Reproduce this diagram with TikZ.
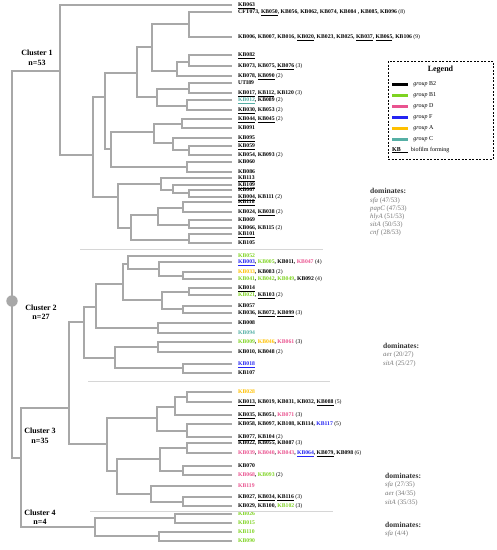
\documentclass[tikz,border=0pt]{standalone}
\usepackage{fontspec}
\setmainfont{Liberation Serif}
\usetikzlibrary{positioning}

\definecolor{branchgrey}{HTML}{A8A8A8}
\definecolor{sepgrey}{HTML}{D6D6D6}
\definecolor{grpBone}{HTML}{7ED321}
\definecolor{grpD}{HTML}{E9538F}
\definecolor{grpF}{HTML}{2424F2}
\definecolor{grpA}{HTML}{FFC000}
\definecolor{grpC}{HTML}{55AFA5}
\definecolor{genegrey}{HTML}{777777}
\definecolor{domgrey}{HTML}{333333}

\newcommand{\bfm}[1]{\underline{#1}}
\newcommand{\Bone}[1]{\textcolor{grpBone}{#1}}
\newcommand{\Dgrp}[1]{\textcolor{grpD}{#1}}
\newcommand{\Fgrp}[1]{\textcolor{grpF}{#1}}
\newcommand{\Agrp}[1]{\textcolor{grpA}{#1}}
\newcommand{\Cgrp}[1]{\textcolor{grpC}{#1}}
\newcommand{\cnt}[1]{\textmd{(#1)}}

\tikzset{
    branch/.style = {draw=branchgrey, line width=1.8pt},
    leaf/.style = {anchor=west, inner xsep=6pt, inner ysep=0pt, text height=4pt, text depth=1pt,
      font=\fontsize{5.7}{6}\selectfont\bfseries},
    clusterlabel/.style = {align=center, font=\fontsize{8}{9.5}\selectfont\bfseries},
    sepline/.style = {draw=sepgrey, line width=0.8pt},
    swatch/.style = {minimum width=16pt, minimum height=3pt, inner sep=0pt},
    legendtext/.style = {inner sep=0pt, font=\fontsize{6}{7}\selectfont},
    dom/.style = {anchor=west, inner sep=0pt, text=domgrey, font=\fontsize{7.6}{8}\selectfont\bfseries},
    gene/.style = {anchor=west, inner sep=0pt, text=genegrey, font=\fontsize{6.8}{7}\selectfont},
}

\begin{document}
\begin{tikzpicture}
    [
      x = 1pt,
      y = -1pt,
    ]

    \useasboundingbox (0,0) rectangle (497,550);

    \coordinate (root) at (12,301);
    \coordinate (na) at (21,458);
    \coordinate (nb) at (69,408);

    \coordinate (cl1) at (60,71);
    \coordinate (n1) at (93,155);
    \coordinate (n2) at (105,97);
    \coordinate (n3) at (137,73);
    \coordinate (n4) at (152,47);
    \coordinate (n5) at (189,24);
    \coordinate (n6) at (177,71);
    \coordinate (n7) at (189,62);
    \coordinate (n8) at (157,97);
    \coordinate (n9) at (189,89);
    \coordinate (n10) at (187,106);
    \coordinate (n11) at (111,149);
    \coordinate (n12) at (154,132);
    \coordinate (n13) at (182,124);
    \coordinate (n14) at (173,143);
    \coordinate (n15) at (187,167);
    \coordinate (n16) at (189,150);
    \coordinate (n17) at (118,197);
    \coordinate (n18) at (161,184);
    \coordinate (n19) at (173,190);
    \coordinate (n20) at (189,193);
    \coordinate (n21) at (131,228);
    \coordinate (n22) at (158,215);
    \coordinate (n23) at (183,208);
    \coordinate (n24) at (189,225);
    \coordinate (n25) at (189,240);

    \coordinate (cl2) at (84,322);
    \coordinate (m1) at (96,307);
    \coordinate (m2) at (123,284);
    \coordinate (m3) at (128,264);
    \coordinate (m4) at (159,269);
    \coordinate (m5) at (162,300);
    \coordinate (m6) at (189,292);
    \coordinate (m7) at (158,328);
    \coordinate (m8) at (115,358);
    \coordinate (m9) at (183,276);
    \coordinate (m10) at (183,309);
    \coordinate (m11) at (158,347);
    \coordinate (m12) at (183,368);

    \coordinate (cl3) at (107,444);
    \coordinate (p1) at (157,418);
    \coordinate (p2) at (175,407);
    \coordinate (p3) at (187,431);
    \coordinate (p4) at (117,471);
    \coordinate (p5) at (187,397);
    \coordinate (p6) at (160,459);
    \coordinate (p7) at (187,448);
    \coordinate (p8) at (183,471);
    \coordinate (p9) at (151,494);
    \coordinate (p10) at (183,502);

    \coordinate (cl4) at (95,527);
    \coordinate (q1) at (175,518);
    \coordinate (q2) at (159,536);

    \node[leaf] (kb063) at (232,5) {\bfm{KB063}};
    \node[leaf] (cft073) at (232,12) {CFT073, \bfm{KB050}, KB056, KB062, KB074, KB084 , KB085, KB096 \cnt{8}};
    \node[leaf] (kb006) at (232,37) {KB006, KB007, KB016, \bfm{KB020}, KB023, KB025, \bfm{KB037}, \bfm{KB065}, KB106 \cnt{9}};
    \node[leaf] (kb082) at (232,55) {\bfm{KB082}};
    \node[leaf] (kb073) at (232,66) {KB073, KB075, \bfm{KB076} \cnt{3}};
    \node[leaf] (kb078) at (232,76) {KB078, \bfm{KB090} \cnt{2}};
    \node[leaf] (uti89) at (232,83) {UTI89};
    \node[leaf] (kb017) at (232,93) {\bfm{KB017}, \bfm{KB112}, KB120 \cnt{3}};
    \node[leaf] (kb012) at (232,100) {\Cgrp{\bfm{KB012}}, KB089 \cnt{2}};
    \node[leaf] (kb030) at (232,110) {\bfm{KB030}, KB053 \cnt{2}};
    \node[leaf] (kb044) at (232,119) {\bfm{KB044}, \bfm{KB045} \cnt{2}};
    \node[leaf] (kb091) at (232,128) {KB091};
    \node[leaf] (kb095) at (232,138) {\bfm{KB095}};
    \node[leaf] (kb059) at (232,146) {\bfm{KB059}};
    \node[leaf] (kb054) at (232,155) {KB054, KB093 \cnt{2}};
    \node[leaf] (kb060) at (232,162) {KB060};
    \node[leaf] (kb086) at (232,172) {KB086};
    \node[leaf] (kb113) at (232,178) {\bfm{KB113}};
    \node[leaf] (kb109) at (232,185) {\bfm{KB109}};
    \node[leaf] (kb067) at (232,190) {KB067};
    \node[leaf] (kb004) at (232,197) {\bfm{KB004}, KB111 \cnt{2}};
    \node[leaf] (kb118) at (232,202) {\bfm{KB118}};
    \node[leaf] (kb024) at (232,212) {KB024, \bfm{KB038} \cnt{2}};
    \node[leaf] (kb069) at (232,220) {KB069};
    \node[leaf] (kb066) at (232,228) {KB066, KB115 \cnt{2}};
    \node[leaf] (kb101) at (232,234) {\bfm{KB101}};
    \node[leaf] (kb105) at (232,243) {KB105};

    \node[leaf] (kb052) at (232,256) {\Bone{KB052}};
    \node[leaf] (kb003) at (232,262) {\Fgrp{\bfm{KB003}}, \Bone{KB005}, KB011, \Dgrp{KB047} \cnt{4}};
    \node[leaf] (kb033) at (232,272) {\Agrp{KB033}, KB083 \cnt{2}};
    \node[leaf] (kb041) at (232,279) {\Bone{KB041}, \Bone{KB042}, \Bone{KB049}, KB092 \cnt{4}};
    \node[leaf] (kb014) at (232,288) {\bfm{KB014}};
    \node[leaf] (kb021) at (232,295) {\Bone{KB021}, \bfm{KB103} \cnt{2}};
    \node[leaf] (kb057) at (232,306) {KB057};
    \node[leaf] (kb036) at (232,313) {KB036, \bfm{KB072}, \bfm{KB099} \cnt{3}};
    \node[leaf] (kb008) at (232,323) {KB008};
    \node[leaf] (kb094) at (232,333) {\Cgrp{KB094}};
    \node[leaf] (kb009) at (232,342) {\Bone{KB009}, \Agrp{KB046}, \Dgrp{KB061} \cnt{3}};
    \node[leaf] (kb010) at (232,352) {KB010, KB048 \cnt{2}};
    \node[leaf] (kb018) at (232,364) {\Fgrp{\bfm{KB018}}};
    \node[leaf] (kb107) at (232,373) {KB107};

    \node[leaf] (kb028) at (232,392) {\Agrp{KB028}};
    \node[leaf] (kb013) at (232,402) {\bfm{KB013}, KB019, KB031, KB032, \bfm{KB088} \cnt{5}};
    \node[leaf] (kb035) at (232,415) {\bfm{KB035}, KB051, \Dgrp{KB071} \cnt{3}};
    \node[leaf] (kb058) at (232,424) {KB058, KB097, KB108, KB114, \Fgrp{KB117} \cnt{5}};
    \node[leaf] (kb077) at (232,437) {\bfm{KB077}, \bfm{KB104} \cnt{2}};
    \node[leaf] (kb022) at (232,443) {KB022, KB055, KB087 \cnt{3}};
    \node[leaf] (kb039) at (232,453) {\Dgrp{KB039}, \Dgrp{KB040}, \Dgrp{KB043}, \Fgrp{\bfm{KB064}}, \bfm{KB079}, KB098 \cnt{6}};
    \node[leaf] (kb070) at (232,466) {KB070};
    \node[leaf] (kb068) at (232,475) {\Dgrp{KB068}, \Bone{KB093} \cnt{2}};
    \node[leaf] (kb119) at (232,486) {\Dgrp{KB119}};
    \node[leaf] (kb027) at (232,497) {KB027, \bfm{KB034}, \bfm{KB116} \cnt{3}};
    \node[leaf] (kb029) at (232,506) {KB029, KB100, \Bone{KB102} \cnt{3}};

    \node[leaf] (kb026) at (232,514) {\Bone{KB026}};
    \node[leaf] (kb015) at (232,523) {\Bone{KB015}};
    \node[leaf] (kb110) at (232,532) {\Bone{KB110}};
    \node[leaf] (kb090) at (232,541) {\Bone{KB090}};

    \draw[branch] (cl1) -| (root) |- (na);
    \draw[branch] (nb) -| (na) |- (cl4);
    \draw[branch] (cl2) -| (nb) |- (cl3);

    \draw[branch] (kb063.west) -| (cl1) |- (n1);
    \draw[branch] (n2) -| (n1) |- (n17);
    \draw[branch] (n3) -| (n2) |- (n11);
    \draw[branch] (n4) -| (n3) |- (n8);
    \draw[branch] (n5) -| (n4) |- (n6);
    \draw[branch] (cft073.west) -| (n5) |- (kb006.west);
    \draw[branch] (n7) -| (n6) |- (kb078.west);
    \draw[branch] (kb082.west) -| (n7) |- (kb073.west);
    \draw[branch] (n9) -| (n8) |- (n10);
    \draw[branch] (uti89.west) -| (n9) |- (kb017.west);
    \draw[branch] (kb012.west) -| (n10) |- (kb030.west);
    \draw[branch] (n12) -| (n11) |- (n15);
    \draw[branch] (n13) -| (n12) |- (n14);
    \draw[branch] (kb044.west) -| (n13) |- (kb091.west);
    \draw[branch] (kb095.west) -| (n14) |- (n16);
    \draw[branch] (kb059.west) -| (n16) |- (kb054.west);
    \draw[branch] (kb060.west) -| (n15) |- (kb086.west);
    \draw[branch] (n18) -| (n17) |- (n21);
    \draw[branch] (kb113.west) -| (n18) |- (n19);
    \draw[branch] (kb109.west) -| (n19) |- (n20);
    \draw[branch] (kb067.west) -| (n20) |- (kb004.west);
    \draw[branch] (n22) -| (n21) |- (n25);
    \draw[branch] (n23) -| (n22) |- (n24);
    \draw[branch] (kb118.west) -| (n23) |- (kb024.west);
    \draw[branch] (kb069.west) -| (n24) |- (kb066.west);
    \draw[branch] (kb101.west) -| (n25) |- (kb105.west);

    \draw[branch] (m1) -| (cl2) |- (m8);
    \draw[branch] (m2) -| (m1) |- (m7);
    \draw[branch] (m3) -| (m2) |- (m5);
    \draw[branch] (kb052.west) -| (m3) |- (m4);
    \draw[branch] (kb003.west) -| (m4) |- (m9);
    \draw[branch] (kb033.west) -| (m9) |- (kb041.west);
    \draw[branch] (m6) -| (m5) |- (m10);
    \draw[branch] (kb014.west) -| (m6) |- (kb021.west);
    \draw[branch] (kb057.west) -| (m10) |- (kb036.west);
    \draw[branch] (kb008.west) -| (m7) |- (kb094.west);
    \draw[branch] (m11) -| (m8) |- (m12);
    \draw[branch] (kb009.west) -| (m11) |- (kb010.west);
    \draw[branch] (kb018.west) -| (m12) |- (kb107.west);

    \draw[branch] (p1) -| (cl3) |- (p4);
    \draw[branch] (p2) -| (p1) |- (p3);
    \draw[branch] (p5) -| (p2) |- (kb035.west);
    \draw[branch] (kb028.west) -| (p5) |- (kb013.west);
    \draw[branch] (kb058.west) -| (p3) |- (kb077.west);
    \draw[branch] (p6) -| (p4) |- (p9);
    \draw[branch] (p7) -| (p6) |- (p8);
    \draw[branch] (kb022.west) -| (p7) |- (kb039.west);
    \draw[branch] (kb070.west) -| (p8) |- (kb068.west);
    \draw[branch] (kb119.west) -| (p9) |- (p10);
    \draw[branch] (kb027.west) -| (p10) |- (kb029.west);

    \draw[branch] (q1) -| (cl4) |- (q2);
    \draw[branch] (kb026.west) -| (q1) |- (kb015.west);
    \draw[branch] (kb110.west) -| (q2) |- (kb090.west);

    \node[circle, fill=branchgrey, minimum size=11.4pt, inner sep=0pt] (rootdot) at (root) {};

    \draw[sepline] (80,249) -- (323,249);
    \draw[sepline] (88,381) -- (330,381);
    \draw[sepline] (90,511) -- (333,511);

    \node[clusterlabel] (lab1) at (37,58) {Cluster 1\\n=53};
    \node[clusterlabel] (lab2) at (41,312) {Cluster 2\\n=27};
    \node[clusterlabel] (lab3) at (40,436) {Cluster 3\\n=35};
    \node[clusterlabel] (lab4) at (40,517) {Cluster 4\\n=4};

    \draw[line width=0.7pt, dash pattern=on 2pt off 1.5pt] (388,61) rectangle (493,159);
    \node[font=\fontsize{8}{9}\selectfont\bfseries] (legend) at (440.5,70) {Legend};
    \node[swatch, fill=black] (swBtwo) at (400,84) {};
    \node[swatch, fill=grpBone] (swBone) at (400,95) {};
    \node[swatch, fill=grpD] (swD) at (400,106) {};
    \node[swatch, fill=grpF] (swF) at (400,117) {};
    \node[swatch, fill=grpA] (swA) at (400,128) {};
    \node[swatch, fill=grpC] (swC) at (400,139) {};
    \node[legendtext, right=5pt of swBtwo] (txBtwo) {\textit{group} B2};
    \node[legendtext, right=5pt of swBone] (txBone) {\textit{group} B1};
    \node[legendtext, right=5pt of swD] (txD) {\textit{group} D};
    \node[legendtext, right=5pt of swF] (txF) {\textit{group} F};
    \node[legendtext, right=5pt of swA] (txA) {\textit{group} A};
    \node[legendtext, right=5pt of swC] (txC) {\textit{group} C};
    \node[legendtext, anchor=west] (biofilm) at (392,150) {\underline{\textbf{KB}\hspace{7pt}}\hspace{3pt}biofilm forming};

    \node[dom] (dom1) at (370,191) {dominates:};
    \node[gene] (sfa1) at (370,200.5) {\textit{sfa} (47/53)};
    \node[gene] (papc1) at (370,208.5) {\textit{papC} (47/53)};
    \node[gene] (hlya1) at (370,216.5) {\textit{hlyA} (51/53)};
    \node[gene] (sita1) at (370,224.5) {\textit{sitA} (50/53)};
    \node[gene] (cnf1) at (370,232.5) {\textit{cnf} (28/53)};

    \node[dom] (dom2) at (383,346) {dominates:};
    \node[gene] (aer2) at (383,355) {\textit{ae}r (20/27)};
    \node[gene] (sita2) at (383,364) {\textit{sitA} (25/27)};

    \node[dom] (dom3) at (385,476) {dominates:};
    \node[gene] (sfa3) at (385,485) {\textit{sfa} (27/35)};
    \node[gene] (aer3) at (385,494) {\textit{ae}r (34/35)};
    \node[gene] (sita3) at (385,503) {\textit{sitA} (35/35)};

    \node[dom] (dom4) at (385,525) {dominates:};
    \node[gene] (sfa4) at (385,534) {\textit{sfa} (4/4)};

\end{tikzpicture}
\end{document}
